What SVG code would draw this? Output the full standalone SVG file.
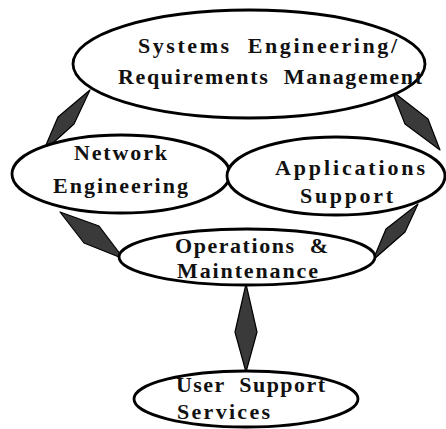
<svg xmlns="http://www.w3.org/2000/svg" width="446" height="429" viewBox="0 0 446 429">
<style>
.node ellipse{fill:#fff;stroke:#000;stroke-width:2.8}
.node text{font-family:"Liberation Serif","Times New Roman",serif;font-weight:bold;font-size:22px;fill:#111;white-space:pre}
.conn polygon{fill:#3a3a3a;stroke:#000;stroke-width:1.2;stroke-linejoin:round}
</style>
<rect width="446" height="429" fill="#fff"/>
<g id="connectors" class="conn">
<polygon points="90,90 74,124 43,152 58,117"/>
<polygon points="392,91 428,119 440,150 405,124"/>
<polygon points="60,212 99,226 124,259 84,243"/>
<polygon points="418,204 405,232 373,260 386,229"/>
<polygon points="246,284 257,332 246,372 235,332"/>
</g>
<g id="systems" class="node">
<ellipse cx="249" cy="64" rx="176" ry="54"/>
<text x="138" y="53" textLength="259" lengthAdjust="spacing" xml:space="preserve">Systems  Engineering/</text>
<text x="118" y="84" textLength="304" lengthAdjust="spacing" xml:space="preserve">Requirements  Management</text>
</g>
<g id="network" class="node">
<ellipse cx="121" cy="174" rx="109" ry="39"/>
<text x="74" y="160" textLength="93" lengthAdjust="spacing">Network</text>
<text x="53" y="193" textLength="135" lengthAdjust="spacing">Engineering</text>
</g>
<g id="applications" class="node">
<ellipse cx="336" cy="176" rx="109" ry="39"/>
<text x="275" y="175" textLength="150" lengthAdjust="spacing">Applications</text>
<text x="300" y="203" textLength="93" lengthAdjust="spacing">Support</text>
</g>
<g id="operations" class="node">
<ellipse cx="247" cy="257" rx="128" ry="28"/>
<text x="175" y="253" textLength="153" lengthAdjust="spacing" xml:space="preserve">Operations  &amp;</text>
<text x="177" y="278" textLength="141" lengthAdjust="spacing">Maintenance</text>
</g>
<g id="usersupport" class="node">
<ellipse cx="246" cy="399" rx="112" ry="28"/>
<text x="176" y="392" textLength="149" lengthAdjust="spacing" xml:space="preserve">User  Support</text>
<text x="177" y="419" textLength="93" lengthAdjust="spacing">Services</text>
</g>
</svg>
